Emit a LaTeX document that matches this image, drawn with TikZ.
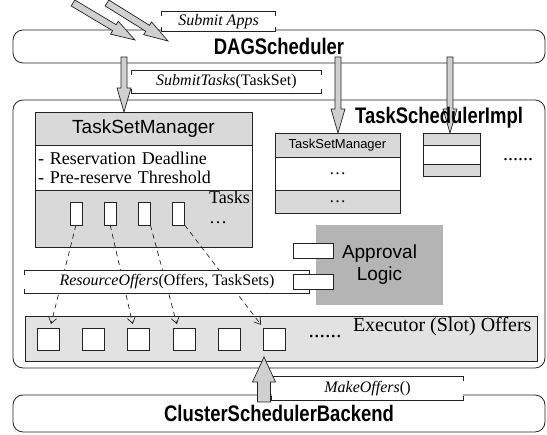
\documentclass[tikz,border=0pt]{standalone}
\usepackage{fontspec}
\setmainfont{Liberation Serif}
\setsansfont{Liberation Sans}
\newfontfamily\namefont[FakeStretch=0.82]{Liberation Sans}
\usepackage{tikz}
\definecolor{ink}{RGB}{35, 35, 35}
\definecolor{panel}{RGB}{217, 217, 217}
\definecolor{band}{RGB}{226, 226, 226}
\definecolor{approval}{RGB}{180, 180, 180}
\definecolor{arrowfill}{RGB}{208, 208, 208}
\usetikzlibrary{arrows.meta, positioning, calc}

% top and bottom rule with short corner ticks around a call label
\newcommand{\tickframe}[1]{%
  \draw[ink, line width=0.8pt] ([yshift=-4pt]#1.north west) -- (#1.north west) -- (#1.north east) -- ([yshift=-4pt]#1.north east);
  \draw[ink, line width=0.8pt] ([yshift=4pt]#1.south west) -- (#1.south west) -- (#1.south east) -- ([yshift=4pt]#1.south east);
}

\begin{document}
\begin{tikzpicture}[x=1pt, y=1pt,
    bar/.style={draw=ink, line width=0.8pt, rounded corners=10pt,
                minimum width=532pt, minimum height=#1, inner sep=0pt, outer sep=0pt},
    title/.style={font=\namefont\bfseries\fontsize{22.5}{24}\selectfont},
    part/.style={draw=ink, line width=0.8pt, fill=#1, inner sep=0pt, outer sep=0pt},
    call/.style={fill=white, minimum width=#1, minimum height=22pt, inner sep=0pt,
                 font=\fontsize{16}{18}\selectfont},
    taskbox/.style={part=white, minimum width=12pt, minimum height=23pt},
    slot/.style={part=white, minimum width=22pt, minimum height=22pt},
    offer/.style={ink, line width=0.7pt, dash pattern=on 5pt off 4pt,
                  -{Straight Barb[length=6pt, width=8pt]}, shorten >=4pt},
    fatarrow/.style args={#1/#2/#3}{draw=ink, fill=arrowfill, line width=0.7pt,
        to path={
          ($(\tikztotarget)!#3!(\tikztostart)$) coordinate (fa-neck)
          ($(\tikztostart)!#1!90:(\tikztotarget)$) --
          ($(fa-neck)!#1!-90:(\tikztostart)$) --
          ($(fa-neck)!#2!-90:(\tikztostart)$) --
          (\tikztotarget) --
          ($(fa-neck)!#2!90:(\tikztostart)$) --
          ($(fa-neck)!#1!90:(\tikztostart)$) --
          ($(\tikztostart)!#1!-90:(\tikztotarget)$) -- cycle}}
]
    \useasboundingbox (0,0) rectangle (547,435);

    % the three scheduler layers
    \node[bar=33pt, title] (dag) at (279,388.5) {DAGScheduler};
    \node[bar=268pt] (impl) at (279,201) {};
    \node[bar=37pt, title] (backend) at (279,21.5) {ClusterSchedulerBackend};

    % expanded task set manager
    \node[part=panel, minimum width=217pt, minimum height=33pt,
          font=\sffamily\fontsize{19}{21}\selectfont] (tsm) at (143.5,306.5) {TaskSetManager};
    \node[part=white, minimum width=217pt, minimum height=45pt, text width=211pt,
          align=left, font=\fontsize{18}{19}\selectfont, below=0pt of tsm] (params)
          {- Reservation Deadline\\- Pre-reserve Threshold};
    \node[part=panel, minimum width=217pt, minimum height=57pt, below=0pt of params] (tasks) {};
    \node[anchor=north east, inner sep=1pt, font=\fontsize{18}{20}\selectfont]
          at ([xshift=-1pt]tasks.north east) {Tasks};
    \node[anchor=base, font=\fontsize{18}{20}\selectfont] at (218,211) {\ldots};
    \foreach \i in {1,...,4}
        \node[taskbox] (task\i) at ({76+34.2*(\i-1)},221.5) {};

    % collapsed task set managers
    \node[part=panel, minimum width=125pt, minimum height=24pt,
          font=\sffamily\fontsize{13}{15}\selectfont] (tsm2) at (337.5,290) {TaskSetManager};
    \node[part=white, minimum width=125pt, minimum height=33pt, font=\fontsize{17}{19}\selectfont,
          below=0pt of tsm2] (tsm2mid) {\ldots};
    \node[part=panel, minimum width=125pt, minimum height=23pt, font=\fontsize{17}{19}\selectfont,
          below=0pt of tsm2mid] {\ldots};

    \node[part=panel, minimum width=57pt, minimum height=12pt] (tsm3) at (451.5,296) {};
    \node[part=white, minimum width=57pt, minimum height=19pt, below=0pt of tsm3] (tsm3mid) {};
    \node[part=panel, minimum width=57pt, minimum height=12pt, below=0pt of tsm3mid] {};
    \node[anchor=base, font=\fontsize{20}{22}\selectfont] at (518,274) {......};

    % approval logic
    \node[fill=approval, minimum width=127pt, minimum height=80pt, align=center,
          font=\sffamily\fontsize{19}{22}\selectfont] (approve) at (379.5,170) {Approval\\Logic};

    % executor slot offers
    \node[part=band, minimum width=512pt, minimum height=45pt] (offers) at (281,96.5) {};
    \foreach \i in {1,...,6}
        \node[slot] (slot\i) at ({48+45.3*(\i-1)},96) {};
    \node[anchor=base, font=\fontsize{22}{24}\selectfont] at (325,97) {......};
    \node[anchor=east, font=\fontsize{20}{22}\selectfont] at (535,108) {Executor (Slot) Offers};

    % tasks matched to offers
    \draw[offer] (task1.south) -- ([xshift=2pt]slot1.north);
    \draw[offer] (task2.south) -- ([xshift=-5pt]slot3.north);
    \draw[offer] (task3.south east) -- ([xshift=-6pt]slot4.north);
    \draw[offer] (task4.south east) -- (slot6.north west);

    % call labels
    \node[call=113pt, minimum height=19pt] (apps) at (218.5,413.5) {\textit{Submit Apps}};
    \node[call=189pt] (submit) at (226.5,353) {\textit{SubmitTasks}(TaskSet)};
    \node[call=284pt] (resource) at (167,153) {\textit{ResourceOffers}(Offers, TaskSets)};
    \node[call=191pt, minimum height=23pt] (make) at (367.5,46.5) {\textit{MakeOffers}()};
    \foreach \n in {apps, submit, resource, make} {
        \tickframe{\n}
    }

    % approval ports
    \node[part=white, minimum width=40pt, minimum height=15pt] (port1) at (313,184.5) {};
    \node[part=white, minimum width=40pt, minimum height=15pt] (port2) at (313,153.5) {};

    % incoming applications
    \coordinate (app1) at (73,432);
    \coordinate (app2) at (107,432);
    \draw[fatarrow=3.5pt/7.5pt/24pt] (app1) to (135,395);
    \draw[fatarrow=3.5pt/7.5pt/24pt] (app2) to (168,394);

    % task sets handed down
    \coordinate (drop1) at (124,378);
    \coordinate (drop2) at (338,378);
    \coordinate (drop3) at (450,378);
    \draw[fatarrow=3pt/7pt/24pt] (drop1) to (drop1 |- tsm.north);
    \draw[fatarrow=3pt/7pt/24pt] (drop2) to (drop2 |- tsm2.north);
    \draw[fatarrow=3pt/7pt/24pt] (drop3) to (drop3 |- tsm3.north);

    % offers pushed up from the backend
    \coordinate (rise) at (264,33);
    \draw[fatarrow=6.5pt/11.5pt/25pt] (rise) to ([yshift=4pt]rise |- offers.south);

    \node[title] at (439,317) {TaskSchedulerImpl};
\end{tikzpicture}
\end{document}
